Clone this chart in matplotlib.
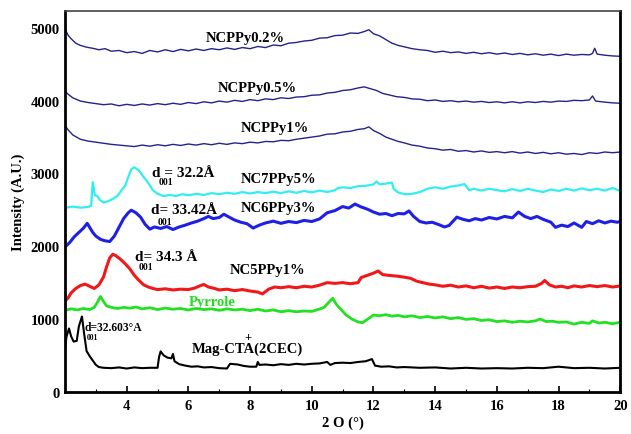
import matplotlib

matplotlib.use("Agg")
import matplotlib.pyplot as plt

# --- XRD patterns (2theta in deg, intensity in A.U.) ---
ncppy02_x = [2.0, 2.1, 2.2, 2.35, 2.5, 2.7, 2.9, 3.1, 3.3, 3.5, 3.75, 4.0, 4.25, 4.5, 4.75, 5.0,
             5.25, 5.5, 5.75, 6.0, 6.25, 6.5, 6.75, 7.0, 7.25, 7.5, 7.75, 8.0, 8.25, 8.5, 8.75, 9.0,
             9.25, 9.5, 9.75, 10.0, 10.25, 10.5, 10.75, 11.0, 11.25, 11.5, 11.7, 11.85, 12.0, 12.2,
             12.4, 12.6, 12.8, 13.0, 13.25, 13.5, 13.75, 14.0, 14.25, 14.5, 14.75, 15.0, 15.25, 15.5,
             15.75, 16.0, 16.25, 16.5, 16.75, 17.0, 17.25, 17.5, 17.75, 18.0, 18.25, 18.5, 18.75, 19.0,
             19.1, 19.17, 19.25, 19.5, 19.75, 20.0]
ncppy02_y = [4985, 4900, 4850, 4790, 4760, 4735, 4720, 4700, 4715, 4680, 4690, 4660, 4675, 4650, 4690, 4670,
             4700, 4675, 4705, 4685, 4710, 4690, 4715, 4700, 4725, 4705, 4730, 4715, 4745, 4730, 4765, 4755,
             4790, 4800, 4820, 4830, 4860, 4865, 4895, 4900, 4930, 4925, 4950, 4975, 4920, 4890,
             4840, 4790, 4760, 4740, 4715, 4700, 4690, 4665, 4680, 4660, 4670, 4650, 4665, 4645,
             4660, 4640, 4655, 4635, 4650, 4630, 4645, 4625, 4640, 4620, 4640, 4625, 4635, 4630,
             4650, 4720, 4640, 4625, 4615, 4610]

ncppy05_x = [2.0, 2.1, 2.25, 2.5, 2.75, 3.0, 3.25, 3.5, 3.75, 4.0, 4.25, 4.5, 4.75, 5.0, 5.25, 5.5,
             5.75, 6.0, 6.25, 6.5, 6.75, 7.0, 7.25, 7.5, 7.75, 8.0, 8.25, 8.5, 8.75, 9.0, 9.25, 9.5,
             9.75, 10.0, 10.25, 10.5, 10.75, 11.0, 11.25, 11.5, 11.7, 11.9, 12.1, 12.3, 12.5, 12.75,
             13.0, 13.25, 13.5, 13.75, 14.0, 14.25, 14.5, 14.75, 15.0, 15.25, 15.5, 15.75, 16.0, 16.25,
             16.5, 16.75, 17.0, 17.25, 17.5, 17.75, 18.0, 18.25, 18.5, 18.75, 19.0, 19.1, 19.2, 19.5,
             19.75, 20.0]
ncppy05_y = [4130, 4090, 4040, 3995, 3975, 3960, 3945, 3955, 3930, 3950, 3935, 3955, 3940, 3960, 3945, 3965,
             3950, 3975, 3960, 3985, 3970, 3995, 3980, 4005, 3990, 4015, 4000, 4025, 4015, 4040, 4030, 4050,
             4055, 4075, 4080, 4105, 4115, 4140, 4150, 4175, 4190, 4165, 4140, 4100, 4080, 4055,
             4045, 4025, 4020, 4000, 4010, 3990, 4000, 3985, 3995, 3980, 3990, 3975, 3985, 3970,
             3985, 3970, 3985, 3975, 3990, 3980, 3995, 3990, 4005, 4000, 4010, 4065, 3995, 3980,
             3970, 3965]

ncppy1_x = [2.0, 2.1, 2.25, 2.5, 2.75, 3.0, 3.25, 3.5, 3.75, 4.0, 4.25, 4.5, 4.75, 5.0, 5.25, 5.5,
            5.75, 6.0, 6.25, 6.5, 6.75, 7.0, 7.25, 7.5, 7.75, 8.0, 8.25, 8.5, 8.75, 9.0, 9.25, 9.5,
            9.75, 10.0, 10.25, 10.5, 10.75, 11.0, 11.25, 11.5, 11.7, 11.85, 12.0, 12.2, 12.4, 12.6,
            12.8, 13.0, 13.25, 13.5, 13.75, 14.0, 14.25, 14.5, 14.75, 15.0, 15.25, 15.5, 15.75, 16.0,
            16.25, 16.5, 16.75, 17.0, 17.25, 17.5, 17.75, 18.0, 18.25, 18.5, 18.75, 19.0, 19.25, 19.5,
            19.75, 20.0]
ncppy1_y = [3660, 3600, 3530, 3470, 3445, 3430, 3415, 3400, 3390, 3380, 3370, 3390, 3375, 3395, 3380, 3400,
            3385, 3405, 3390, 3410, 3395, 3415, 3400, 3420, 3410, 3430, 3420, 3440, 3435, 3455, 3450, 3470,
            3485, 3500, 3515, 3540, 3545, 3570, 3580, 3605, 3615, 3640, 3590, 3550, 3500, 3470,
            3440, 3420, 3390, 3375, 3350, 3340, 3320, 3330, 3305, 3315, 3295, 3310, 3290, 3300,
            3285, 3300, 3280, 3295, 3275, 3290, 3270, 3285, 3265, 3275, 3260, 3285, 3275, 3295,
            3285, 3295]

nc7_x = [2.0, 2.25, 2.5, 2.75, 2.85, 2.9, 2.97, 3.05, 3.12, 3.25, 3.4, 3.55, 3.7, 3.85, 3.95, 4.05,
         4.15, 4.25, 4.4, 4.55, 4.7, 4.85, 5.0, 5.2, 5.4, 5.6, 5.8, 6.0, 6.25, 6.5, 6.75, 7.0,
         7.25, 7.5, 7.75, 8.0, 8.25, 8.5, 8.75, 9.0, 9.25, 9.5, 9.75, 10.0, 10.25, 10.5, 10.75, 10.85,
         11.0, 11.25, 11.5, 11.75, 12.0, 12.1, 12.2, 12.4, 12.6, 12.65, 12.8, 13.0, 13.25, 13.5,
         13.75, 14.0, 14.25, 14.5, 14.75, 14.95, 15.1, 15.25, 15.5, 15.75, 16.0, 16.25, 16.5, 16.75,
         17.0, 17.25, 17.5, 17.75, 18.0, 18.25, 18.5, 18.75, 19.0, 19.25, 19.5, 19.75, 20.0]
nc7_y = [2530, 2545, 2530, 2540, 2560, 2880, 2700, 2690, 2640, 2600, 2620, 2650, 2690, 2780, 2830, 2950,
         3060, 3085, 3040, 2950, 2870, 2770, 2720, 2690, 2705, 2690, 2715, 2700, 2720, 2705, 2730, 2715,
         2735, 2720, 2745, 2725, 2745, 2730, 2750, 2730, 2755, 2735, 2760, 2740, 2765, 2745, 2770, 2800,
         2810, 2800, 2825, 2830, 2850, 2890, 2850, 2860, 2875, 2790, 2740, 2715, 2720, 2745,
         2790, 2810, 2790, 2820, 2835, 2855, 2770, 2790, 2765, 2790, 2770, 2755, 2785, 2760,
         2790, 2765, 2745, 2780, 2760, 2790, 2765, 2795, 2770, 2790, 2765, 2800, 2760]

nc6_x = [2.0, 2.15, 2.3, 2.45, 2.6, 2.72, 2.8, 2.9, 3.0, 3.15, 3.3, 3.45, 3.6, 3.75, 3.9, 4.05,
         4.15, 4.3, 4.45, 4.6, 4.75, 4.9, 5.1, 5.3, 5.5, 5.7, 5.9, 6.1, 6.3, 6.5, 6.65, 6.8,
         7.0, 7.15, 7.3, 7.5, 7.7, 7.9, 8.1, 8.3, 8.5, 8.75, 9.0, 9.25, 9.5, 9.75, 10.0, 10.25,
         10.5, 10.75, 11.0, 11.2, 11.4, 11.6, 11.8, 12.0, 12.2, 12.4, 12.6, 12.8, 13.0, 13.15,
         13.3, 13.5, 13.7, 13.9, 14.1, 14.3, 14.45, 14.7, 14.9, 15.1, 15.3, 15.5, 15.75, 16.0,
         16.25, 16.5, 16.7, 16.9, 17.1, 17.3, 17.5, 17.75, 17.9, 18.1, 18.3, 18.5, 18.75, 18.9,
         19.1, 19.3, 19.5, 19.7, 19.9, 20.0]
nc6_y = [1990, 2050, 2130, 2190, 2250, 2315, 2260, 2190, 2140, 2095, 2075, 2065, 2140, 2260, 2380, 2460,
         2495, 2460, 2400, 2300, 2235, 2265, 2245, 2270, 2230, 2265, 2290, 2320, 2345, 2380, 2410, 2380,
         2395, 2440, 2405, 2360, 2330, 2310, 2250, 2290, 2320, 2345, 2315, 2340, 2325, 2355, 2340, 2375,
         2460, 2490, 2545, 2525, 2580, 2540, 2510, 2470, 2440, 2450, 2420, 2450, 2445, 2485,
         2410, 2340, 2320, 2330, 2300, 2265, 2285, 2400, 2370, 2350, 2380, 2360, 2395, 2375,
         2410, 2390, 2470, 2410, 2380, 2410, 2370, 2330, 2260, 2290, 2270, 2320, 2260, 2340,
         2310, 2350, 2320, 2345, 2330, 2340]

nc5_x = [2.0, 2.1, 2.2, 2.35, 2.5, 2.65, 2.8, 2.95, 3.1, 3.25, 3.35, 3.45, 3.55, 3.65, 3.8, 3.95,
         4.1, 4.25, 4.4, 4.55, 4.7, 4.85, 5.0, 5.25, 5.5, 5.75, 6.0, 6.2, 6.4, 6.5, 6.65, 6.85,
         7.0, 7.25, 7.5, 7.75, 8.0, 8.25, 8.4, 8.6, 8.8, 9.0, 9.25, 9.5, 9.75, 10.0, 10.25, 10.5,
         10.75, 11.0, 11.25, 11.5, 11.6, 11.8, 12.0, 12.15, 12.3, 12.5, 12.75, 13.0, 13.2, 13.4,
         13.6, 13.8, 14.0, 14.25, 14.5, 14.75, 15.0, 15.25, 15.5, 15.75, 16.0, 16.25, 16.5, 16.75,
         17.0, 17.25, 17.45, 17.55, 17.7, 17.9, 18.1, 18.3, 18.5, 18.75, 19.0, 19.25, 19.5, 19.75,
         20.0]
nc5_y = [1250, 1290, 1360, 1420, 1460, 1480, 1450, 1420, 1470, 1580, 1720, 1840, 1890, 1870, 1820, 1760,
         1690, 1600, 1530, 1470, 1440, 1420, 1405, 1415, 1400, 1410, 1405, 1425, 1460, 1475, 1440, 1420,
         1400, 1410, 1390, 1405, 1385, 1370, 1345, 1410, 1440, 1430, 1445, 1430, 1450, 1440, 1465, 1500,
         1490, 1500, 1485, 1500, 1570, 1600, 1630, 1660, 1610, 1600, 1590, 1575, 1560, 1520,
         1500, 1480, 1470, 1450, 1465, 1440, 1455, 1430, 1450, 1425, 1440, 1420, 1440, 1430,
         1445, 1450, 1490, 1530, 1470, 1440, 1450, 1430, 1455, 1440, 1460, 1445, 1460, 1440,
         1455]

pyrrole_x = [2.0, 2.2, 2.4, 2.6, 2.8, 2.95, 3.05, 3.15, 3.25, 3.35, 3.5, 3.7, 3.9, 4.1, 4.3, 4.5,
             4.75, 5.0, 5.25, 5.5, 5.75, 6.0, 6.25, 6.5, 6.75, 7.0, 7.25, 7.5, 7.75, 8.0, 8.25, 8.5,
             8.75, 9.0, 9.25, 9.5, 9.75, 10.0, 10.2, 10.4, 10.55, 10.68, 10.8, 10.95, 11.1, 11.3,
             11.5, 11.65, 11.85, 12.0, 12.2, 12.4, 12.6, 12.8, 13.0, 13.25, 13.5, 13.75, 14.0, 14.25,
             14.5, 14.75, 15.0, 15.25, 15.5, 15.75, 16.0, 16.25, 16.5, 16.75, 17.0, 17.25, 17.4, 17.6,
             17.8, 18.0, 18.25, 18.5, 18.75, 19.0, 19.1, 19.3, 19.5, 19.75, 20.0]
pyrrole_y = [1120, 1140, 1125, 1145, 1130, 1160, 1230, 1310, 1240, 1180, 1160, 1145, 1160, 1150, 1165, 1140,
             1155, 1130, 1150, 1135, 1145, 1125, 1145, 1130, 1140, 1120, 1140, 1125, 1135, 1115, 1135, 1110,
             1125, 1100, 1115, 1100, 1110, 1105, 1130, 1160, 1230, 1285, 1200, 1130, 1060, 1000,
             960, 950, 1010, 1055, 1045, 1060, 1040, 1050, 1030, 1045, 1020, 1035, 1015, 1030,
             1005, 1020, 995, 1005, 980, 990, 965, 975, 955, 970, 960, 975, 1000, 965,
             970, 955, 960, 930, 955, 940, 975, 945, 955, 935, 955]

mag_x = [2.0, 2.05, 2.13, 2.2, 2.28, 2.38, 2.45, 2.55, 2.62, 2.7, 2.8, 2.9, 3.0, 3.1, 3.25, 3.5,
         3.75, 4.0, 4.25, 4.5, 4.75, 5.0, 5.05, 5.1, 5.2, 5.32, 5.45, 5.5, 5.55, 5.7, 5.9, 6.1,
         6.3, 6.5, 6.75, 7.0, 7.25, 7.35, 7.6, 7.8, 8.0, 8.2, 8.25, 8.3, 8.5, 8.75, 9.0, 9.25,
         9.5, 9.75, 10.0, 10.25, 10.5, 10.6, 10.75, 11.0, 11.25, 11.5, 11.75, 11.85, 11.95, 12.05,
         12.25, 12.5, 12.75, 13.0, 13.5, 14.0, 14.5, 15.0, 15.5, 16.0, 16.5, 17.0, 17.5, 18.0,
         18.25, 18.5, 19.0, 19.5, 20.0]
mag_y = [600, 760, 870, 760, 690, 700, 900, 1035, 800, 560, 490, 430, 370, 340, 330, 325,
         335, 320, 335, 325, 330, 330, 480, 555, 500, 470, 460, 520, 420, 380, 360, 345,
         350, 335, 340, 325, 320, 385, 375, 355, 345, 345, 410, 370, 375, 365, 380, 370,
         385, 375, 385, 390, 410, 370, 395, 400, 395, 410, 420, 435, 450, 360,
         345, 350, 335, 340, 330, 335, 320, 330, 320, 325, 320, 330, 325, 345,
         335, 325, 330, 320, 330]

x_ticks = [4, 6, 8, 10, 12, 14, 16, 18, 20]
y_ticks = [0, 1000, 2000, 3000, 4000, 5000]

series = [
    (ncppy02_x, ncppy02_y, "#23238e", 1.0),
    (ncppy05_x, ncppy05_y, "#23238e", 1.0),
    (ncppy1_x, ncppy1_y, "#23238e", 1.0),
    (nc7_x, nc7_y, "#33eef0", 1.6),
    (nc6_x, nc6_y, "#1f1fe6", 2.2),
    (nc5_x, nc5_y, "#f01818", 2.2),
    (pyrrole_x, pyrrole_y, "#22e022", 2.0),
    (mag_x, mag_y, "black", 1.5),
]

plt.rcParams["font.family"] = ["Liberation Serif", "DejaVu Serif"]
plt.rcParams["font.weight"] = "bold"

fig = plt.figure(figsize=(6.31, 4.35), dpi=100)
ax = fig.add_axes([0.103, 0.097, 0.880, 0.875])

for xs, ys, color, lw in series:
    assert len(xs) == len(ys)
    ax.plot(xs, ys, color=color, lw=lw)

ax.set_xlim(2, 20)
ax.set_ylim(0, 5230)
ax.set_xticks(x_ticks)
ax.set_yticks(y_ticks)
ax.set_xticks(range(3, 20, 2), minor=True)
ax.tick_params(axis="x", which="major", direction="in", length=4, width=1.2, labelsize=10.5, pad=5)
ax.tick_params(axis="x", which="minor", direction="in", length=2, width=0.8)
ax.tick_params(axis="y", length=0, labelsize=10.5, pad=4)
for lab in ax.get_xticklabels() + ax.get_yticklabels():
    lab.set_fontweight("bold")
for side in ["left", "bottom", "right"]:
    ax.spines[side].set_linewidth(2)
ax.spines["top"].set_linewidth(1.2)
ax.spines["top"].set_color("#444444")

ax.set_xlabel("2 O (°)", fontsize=10.5, fontweight="bold", labelpad=3)
ax.set_ylabel("Intensity (A.U.)", fontsize=10.5, fontweight="bold", labelpad=4)

# --- curve labels ---
lab = dict(fontsize=10.5, fontweight="bold", va="center", ha="left")
ax.text(6.55, 4875, "NCPPy0.2%", **lab)
ax.text(6.94, 4186, "NCPPy0.5%", **lab)
ax.text(7.69, 3635, "NCPPy1%", **lab)
ax.text(7.69, 2933, "NC7PPy5%", **lab)
ax.text(7.69, 2534, "NC6PPy3%", **lab)
ax.text(7.33, 1680, "NC5PPy1%", **lab)
ax.text(6.0, 1239, "Pyrrole", color="#22dd22", **lab)
ax.text(6.1, 592, "Mag-CTA(2CEC)", **lab)
ax.text(7.92, 757, "+", fontsize=9, fontweight="bold", ha="center", va="center")

# d-spacing annotations with 001 subscripts
ax.text(4.83, 3016, "d = 32.2Å", fontsize=11, fontweight="bold", va="center")
ax.text(5.03, 2885, "001", fontsize=7, fontweight="bold", va="center")
ax.text(4.79, 2506, "d= 33.42Å", fontsize=11, fontweight="bold", va="center")
ax.text(5.0, 2345, "001", fontsize=7, fontweight="bold", va="center")
ax.text(4.28, 1859, "d= 34.3 Å", fontsize=11, fontweight="bold", va="center")
ax.text(4.38, 1721, "001", fontsize=7, fontweight="bold", va="center")
ax.text(2.64, 895, "d=32.603°A", fontsize=8.3, fontweight="bold", va="center")
ax.text(2.72, 752, "001", fontsize=5.5, fontweight="bold", va="center")

fig.savefig("out.png", dpi=100)
